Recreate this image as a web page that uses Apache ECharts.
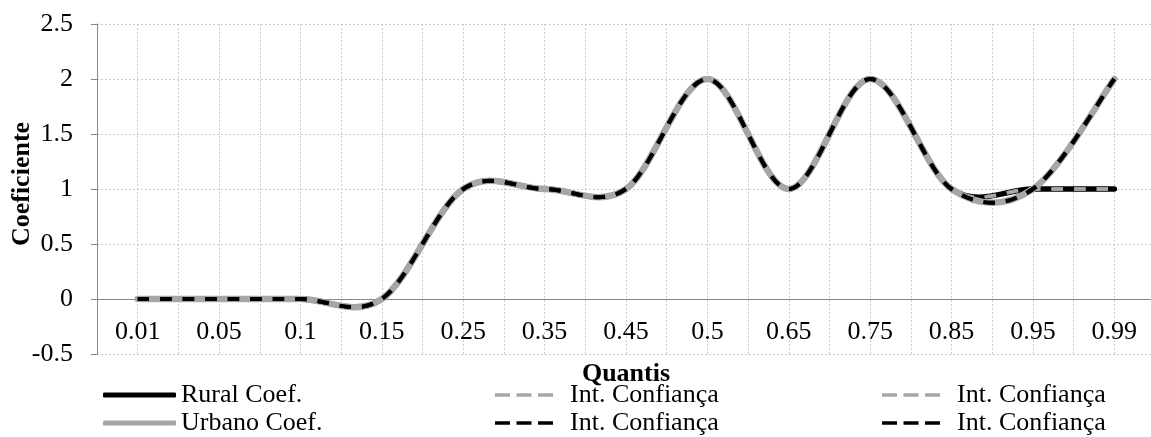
<!DOCTYPE html>
<html><head><meta charset="utf-8">
<script src="https://cdn.jsdelivr.net/npm/echarts@6/dist/echarts.min.js"></script>
<style>html,body{margin:0;padding:0;background:#fff}#c{width:1151px;height:437px}</style>
</head><body><div id="c"></div>
<script>
// ---- data ----
const categories = ['0.01','0.05','0.1','0.15','0.25','0.35','0.45','0.5','0.65','0.75','0.85','0.95','0.99'];
const ruralCoef  = [0,0,0,0,1,1,1,2,1,2,1,1,1];
const ruralCI1   = [0,0,0,0,1,1,1,2,1,2,1,1,1];
const ruralCI2   = [0,0,0,0,1,1,1,2,1,2,1,1,1];
const urbanoCoef = [0,0,0,0,1,1,1,2,1,2,1,1,2];
const urbanoCI1  = [0,0,0,0,1,1,1,2,1,2,1,1,2];
const urbanoCI2  = [0,0,0,0,1,1,1,2,1,2,1,1,2];
const yMin = -0.5, yMax = 2.5, yStep = 0.5;
const yTitle = 'Coeficiente';
const xTitle = 'Quantis';
const ciName = 'Int. Confiança';

const FONT = 'Liberation Serif, Times New Roman, serif';
const GRAY = '#a6a6a6';
const GRID = '#cccccc';

const chart = echarts.init(document.getElementById('c'), null, {renderer: 'canvas'});

// Smoothed line (spreadsheet-style cardinal bezier) drawn through the axis scales
function smoothSeries(name, values, color, width, dash) {
  return {
    name: name, type: 'custom', coordinateSystem: 'cartesian2d',
    xAxisIndex: 0, yAxisIndex: 0, silent: true, clip: false,
    itemStyle: {color: color},
    data: values.map((v, i) => [i, v]),
    encode: {x: 0, y: 1},
    renderItem: function (params, api) {
      if (params.dataIndex !== 0) return null;
      const pts = values.map((v, i) => api.coord([i, v]));
      const n = pts.length;
      let d = 'M' + pts[0][0] + ',' + pts[0][1];
      for (let i = 0; i < n - 1; i++) {
        const p0 = pts[Math.max(i - 1, 0)], p1 = pts[i], p2 = pts[i + 1], p3 = pts[Math.min(i + 2, n - 1)];
        const c1x = p1[0] + (p2[0] - p0[0]) / 6, c1y = p1[1] + (p2[1] - p0[1]) / 6;
        const c2x = p2[0] - (p3[0] - p1[0]) / 6, c2y = p2[1] - (p3[1] - p1[1]) / 6;
        d += ' C' + c1x + ',' + c1y + ' ' + c2x + ',' + c2y + ' ' + p2[0] + ',' + p2[1];
      }
      return {
        type: 'path', shape: {pathData: d},
        style: {fill: 'none', stroke: color, lineWidth: width,
                lineDash: dash || null, lineCap: dash ? 'butt' : 'round', lineJoin: 'round'}
      };
    }
  };
}

const DASH_ICON = 'path://M0,0h15v3.5h-15z M21.5,0h15v3.5h-15z M43,0h15v3.5h-15z';

function ciLegend(left, top, color) {
  return {
    left: left, top: top, orient: 'vertical', padding: 0,
    itemWidth: 58, itemHeight: 3.5, selectedMode: false,
    textStyle: {fontFamily: FONT, fontSize: 26, color: '#000', padding: [0, 0, 0, 12]},
    data: [{name: ciName, icon: DASH_ICON, itemStyle: {color: color, borderWidth: 0}}]
  };
}

chart.setOption({
  animation: false,
  grid: {left: 97, top: 24, right: -4, bottom: 83, containLabel: false, outerBoundsMode: 'none'},
  xAxis: [
    {
      type: 'category', data: categories, boundaryGap: true,
      axisLine: {onZero: true, lineStyle: {color: '#868686', width: 1}},
      axisTick: {show: false},
      axisLabel: {fontFamily: FONT, fontSize: 26, color: '#000', margin: -35, interval: 0},
      splitLine: {show: false},
      name: xTitle, nameLocation: 'middle', nameGap: 7, nameMoveOverlap: false,
      nameTextStyle: {fontFamily: FONT, fontSize: 26, fontWeight: 'bold', color: '#000'}
    },
    {
      type: 'value', min: 0, max: 26, interval: 1, position: 'top',
      axisLine: {show: false}, axisTick: {show: false}, axisLabel: {show: false},
      splitLine: {show: true, lineStyle: {color: GRID, width: 1, type: [2, 2]}}
    }
  ],
  yAxis: {
    type: 'value', min: yMin, max: yMax, interval: yStep,
    axisLine: {show: true, lineStyle: {color: '#868686', width: 1}},
    axisTick: {show: true, length: 6, lineStyle: {color: '#868686'}},
    axisLabel: {fontFamily: FONT, fontSize: 26, color: '#000', margin: 24},
    splitLine: {show: true, lineStyle: {color: GRID, width: 1, type: [2, 2]}},
    name: yTitle, nameLocation: 'middle', nameGap: 62, nameMoveOverlap: false,
    nameTextStyle: {fontFamily: FONT, fontSize: 26, fontWeight: 'bold', color: '#000', padding: [0, 0, 0, 10]}
  },
  legend: [
    {
      left: 103, top: 382, orient: 'vertical', padding: 0, itemGap: 2,
      itemWidth: 73, itemHeight: 5, selectedMode: false,
      textStyle: {fontFamily: FONT, fontSize: 26, color: '#000'},
      data: [
        {name: 'Rural Coef.', icon: 'roundRect', itemStyle: {color: '#000', borderWidth: 0}},
        {name: 'Urbano Coef.', icon: 'roundRect', itemStyle: {color: GRAY, borderWidth: 0}}
      ]
    },
    ciLegend(495, 382, GRAY),
    ciLegend(495, 410, '#000'),
    ciLegend(882, 382, GRAY),
    ciLegend(882, 410, '#000')
  ],
  series: [
    smoothSeries('Rural Coef.', ruralCoef, '#000', 5.5),
    smoothSeries(ciName, ruralCI1, GRAY, 3.5, [11.5, 11]),
    smoothSeries(ciName, ruralCI2, GRAY, 3.5, [11.5, 11]),
    smoothSeries('Urbano Coef.', urbanoCoef, GRAY, 6.5),
    smoothSeries(ciName, urbanoCI1, '#000', 4, [11.5, 11]),
    smoothSeries(ciName, urbanoCI2, '#000', 4, [11.5, 11])
  ]
});
</script></body></html>
